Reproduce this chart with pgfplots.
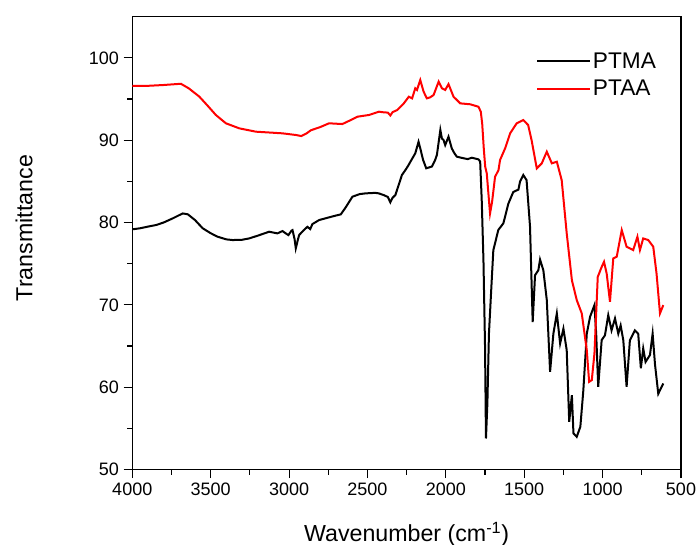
\documentclass[border=0pt]{standalone}
\usepackage{fontspec}
\setmainfont{Liberation Sans}
\usepackage{pgfplots}
\pgfplotsset{compat=1.18}
\begin{document}
\begin{tikzpicture}
\begin{axis}[
 width=411.5pt, height=339.6pt, scale only axis,
 x dir=reverse, xmin=500, xmax=4000, ymin=50, ymax=105,
 xtick={500,1000,...,4000}, ytick={50,60,...,100},
 minor x tick num=1, minor y tick num=1,
 xtick pos=left, ytick pos=left,
 tick align=outside, major tick length=6.5pt, minor tick length=3.75pt,
 every tick/.style={black, line width=0.8pt},
 axis line style={line width=0.9pt},
 /pgf/number format/assume math mode=true,
 /pgf/number format/set thousands separator={},
 tick label style={font=\fontsize{13.5}{16}\selectfont},
 xlabel={Wavenumber (cm\textsuperscript{-1})},
 ylabel={Transmittance},
 label style={font=\fontsize{17.4}{20}\selectfont},
 xlabel style={at={(axis description cs:0.5,-0.1595)}, anchor=base},
 ylabel style={at={(axis description cs:-0.197,0.533)}, anchor=center},
 legend style={at={(axis description cs:0.7358,0.926)}, anchor=north west, draw=none, fill=none,
   font=\fontsize{17}{20}\selectfont, inner sep=0pt, row sep=4.5pt, nodes={inner sep=1.5pt}},
 legend cell align=left,
 legend image code/.code={\draw[#1,line width=1.2pt] (0pt,0pt) -- (38pt,0pt); \path (0pt,0pt) -- (39.5pt,0pt);},
]
\addplot[black, line width=1.5pt, no markers] coordinates {
(4000,79.17) (3950,79.3) (3900,79.5) (3847,79.7) (3800,80.0) (3742,80.5) (3700,80.9) (3678,81.1)
(3646,81.0) (3600,80.3) (3551,79.3) (3500,78.7) (3455,78.27) (3400,77.95) (3360,77.87) (3300,77.9)
(3254,78.07) (3200,78.4) (3127,78.88) (3074,78.68) (3042,78.96) (3015,78.6) (3004,78.47) (2985,79.0)
(2978,79.08) (2965,78.0) (2957,76.86) (2945,77.8) (2936,78.47) (2910,79.0) (2883,79.48) (2865,79.2)
(2851,79.81) (2808,80.3) (2750,80.6) (2700,80.85) (2670,80.99) (2640,81.8) (2596,83.13) (2550,83.45)
(2511,83.54) (2450,83.6) (2428,83.54) (2396,83.33) (2370,83.1) (2354,82.45) (2340,83.0) (2322,83.33)
(2300,84.6) (2280,85.77) (2258,86.37) (2240,86.9) (2226,87.38) (2195,88.4) (2174,89.8) (2163,89.0)
(2145,87.6) (2125,86.58) (2105,86.7) (2089,86.8) (2070,87.5) (2057,88.2) (2035,91.24) (2025,90.2)
(2014,90.0) (2004,89.4) (1983,90.42) (1962,89.0) (1945,88.4) (1930,88.0) (1887,87.8) (1860,87.7)
(1834,87.87) (1792,87.67) (1781,87.4) (1771,82.7) (1760,75.4) (1750,65) (1744,53.77)
(1735,58) (1725,66.5) (1710,72) (1697,76.65) (1665,79.1) (1633,79.9) (1601,82.3) (1570,83.7)
(1548,83.9) (1537,84.0) (1527,84.95) (1506,85.77) (1485,85.15) (1463,79.5) (1446,67.9) (1431,73.6)
(1410,74.2) (1399,75.5) (1378,74.2) (1356,70.58) (1335,61.87) (1314,66.5) (1292,68.96) (1271,65.3)
(1250,67.1) (1229,64.5) (1213,55.8) (1196,59.03) (1186,54.4) (1165,53.97) (1142,55.2) (1123,59.6)
(1101,66.5) (1080,68.55) (1052,69.97) (1041,66.5) (1028,60.04) (1006,65.72) (985,66.3) (964,68.75)
(943,66.9) (921,68.35) (900,66.5) (885,67.5) (868,65.7) (847,60.04) (826,65.7) (794,66.9)
(773,66.5) (756,62.3) (741,64.7) (726,63.07) (698,63.9) (681,66.5) (666,62.8) (645,59.2) (613,60.45)
};
\addlegendentry{PTMA}
\addplot[red, line width=1.5pt, no markers] coordinates {
(4000,96.58) (3900,96.6) (3800,96.7) (3690,96.85) (3640,96.3) (3573,95.3) (3520,94.2) (3467,93.06)
(3403,92.05) (3318,91.44) (3212,91.03) (3100,90.9) (3042,90.83) (2957,90.63) (2922,90.5) (2890,90.8)
(2861,91.2) (2800,91.6) (2745,92.05) (2700,92.0) (2660,91.96) (2600,92.5) (2564,92.85) (2490,93.06)
(2427,93.46) (2396,93.38) (2370,93.35) (2354,93.0) (2340,93.4) (2310,93.66) (2268,94.47) (2236,95.28)
(2215,95.08) (2195,96.3) (2184,96.1) (2163,97.3) (2142,95.9) (2121,95.08) (2100,95.2) (2078,95.49)
(2046,97.1) (2025,96.3) (2004,96.1) (1983,96.8) (1951,95.28) (1908,94.47) (1845,94.36) (1792,94.06)
(1777,93.46) (1768,92.0) (1758,89.0) (1749,86.8) (1739,85.97) (1718,81.1) (1705,82.5)
(1686,85.55) (1664,86.37) (1654,87.6) (1622,89.0) (1590,90.83) (1548,92.05) (1506,92.45) (1475,91.84)
(1453,90.0) (1420,86.58) (1388,87.19) (1356,88.6) (1324,87.19) (1292,87.38) (1261,85.15) (1229,78.7)
(1196,73.0) (1165,70.58) (1133,68.96) (1101,64.5) (1086,60.65) (1069,60.86) (1052,64.1) (1031,73.4)
(1006,74.6) (991,75.23) (974,73.8) (953,70.37) (932,75.64) (910,75.84) (878,79.08) (847,77.06)
(805,76.65) (778,78.27) (762,76.65) (741,78.07) (709,77.87) (677,77.06) (656,73.8) (634,68.96) (613,69.97)
};
\addlegendentry{PTAA}
\end{axis}
\pgfresetboundingbox
\path ([shift={(-99.2pt,-56.6pt)}]current axis.south west) rectangle ([shift={(12pt,12.5pt)}]current axis.north east);
\end{tikzpicture}
\end{document}
